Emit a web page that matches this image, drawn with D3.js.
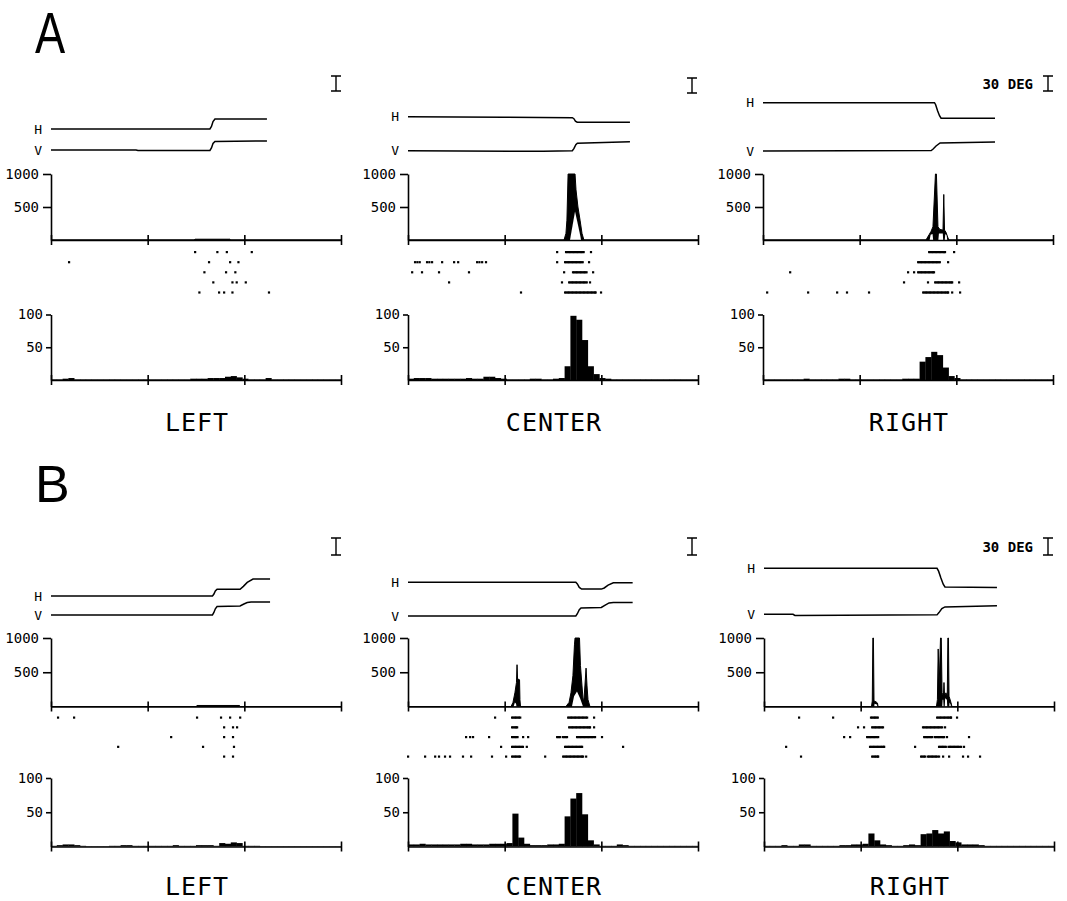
<!DOCTYPE html>
<html><head><meta charset="utf-8">
<script src="https://cdn.jsdelivr.net/npm/d3@7"></script>
<style>
html,body{margin:0;padding:0;background:#fff;}
svg{display:block;}
</style></head>
<body>
<script>
// ---------------- DATA ----------------
const panels = ["A", "B"];
const columns = ["LEFT", "CENTER", "RIGHT"];
const timeDomain = [0, 1500];           // ms
const timeTicks = [0, 500, 1000, 1500];
const densityTicks = [500, 1000];        // spikes/s
const densityMax = 1000;
const histTicks = [50, 100];
const histMax = 100;
const binWidth = 30;                     // ms
const scaleBarDeg = 30;
const scaleBarText = "30 DEG";

// eye position traces: [time ms, deg]
const eyeA_LEFT_H = [[0,0],[822,0],[830,5],[838,15],[848,20],[1117,20]];
const eyeA_LEFT_V = [[0,0],[440,0],[450,-1],[822,-1],[830,4],[838,13],[848,17],[1117,18]];
const eyeA_CENTER_H = [[0,0],[500,-1],[850,-2],[858,-4],[866,-9],[875,-11],[1148,-11]];
const eyeA_CENTER_V = [[0,0],[560,-1],[700,-1],[850,0],[858,4],[868,12],[876,15],[1148,18]];
const eyeA_RIGHT_H = [[0,0],[887,0],[893,-4],[903,-16],[913,-26],[921,-31],[1200,-31]];
const eyeA_RIGHT_V = [[0,0],[870,1],[880,4],[895,10],[916,16],[1200,18]];
const eyeB_LEFT_H = [[0,0],[835,0],[842,3],[850,9],[859,12],[978,12],[995,17],[1015,24],[1045,30],[1133,30]];
const eyeB_LEFT_V = [[0,0],[835,0],[842,4],[850,11],[859,15],[978,16],[995,19],[1015,22],[1035,23],[1133,23]];
const eyeB_CENTER_H = [[0,0],[868,0],[876,-3],[886,-9],[898,-12],[1000,-12],[1015,-10],[1035,-5],[1062,-1],[1162,-1]];
const eyeB_CENTER_V = [[0,0],[868,0],[876,4],[886,11],[895,14],[1000,15],[1020,19],[1040,23],[1062,24],[1162,24]];
const eyeB_RIGHT_H = [[0,0],[895,0],[903,-5],[915,-17],[927,-28],[936,-33],[1205,-34]];
const eyeB_RIGHT_V = [[0,0],[150,0],[160,-2],[895,-1],[905,3],[920,10],[936,13],[1205,15]];

// spike density: [time ms, spikes/s]; hole = unfilled interior under the envelope
const densA_LEFT = [[0,0],[740,0],[745,12],[925,12],[930,0],[1500,0]];
const holeA_LEFT = [];
const densA_CENTER = [[0,0],[807,0],[817,100],[822,300],[828,1000],[864,1000],[869,760],[879,500],[890,300],[900,100],[910,0],[1500,0]];
const holeA_CENTER = [[838,0],[853,250],[864,430],[874,300],[890,80],[895,0]];
const densA_RIGHT = [[0,0],[843,0],[859,80],[869,130],[879,200],[892,1000],[897,1000],[905,200],[915,160],[931,150],[935,690],[939,150],[946,120],[957,30],[962,0],[1500,0]];
const holeA_RIGHT = [[862,0],[867,80],[877,90],[880,0],[907,0],[910,100],[930,100],[932,0],[940,0],[943,90],[950,70],[953,0]];
const densB_LEFT = [[0,0],[750,0],[755,15],[975,15],[980,0],[1500,0]];
const holeB_LEFT = [];
const densB_CENTER = [[0,0],[533,0],[543,60],[553,200],[561,350],[564,610],[567,380],[570,400],[577,390],[579,100],[582,0],[817,0],[833,60],[843,200],[853,450],[861,900],[864,1000],[887,1000],[892,600],[900,300],[905,120],[910,100],[915,300],[921,560],[926,300],[931,100],[941,0],[1500,0]];
const holeB_CENTER = [[546,0],[553,60],[559,40],[561,0],[848,0],[859,150],[874,220],[890,120],[900,40],[905,0]];
const densB_RIGHT = [[0,0],[556,0],[560,80],[563,1000],[566,1000],[569,80],[579,70],[587,50],[590,0],[892,0],[897,100],[901,840],[906,300],[913,1000],[917,1000],[921,200],[928,150],[931,350],[934,150],[941,200],[948,150],[951,1000],[954,1000],[957,150],[967,60],[972,0],[1500,0]];
const holeB_RIGHT = [[570,0],[572,40],[584,30],[586,0],[922,0],[924,100],[927,100],[929,0],[935,0],[937,120],[946,100],[948,0],[958,0],[960,60],[965,30],[967,0]];

// rasters: 5 trials, spike times in ms
const rastA_LEFT = [
  [745,860,909,1038],
  [93,817,926,969],
  [793,905,953],
  [839,938,960,1007],
  [767,869,895,938,1127]
];
const rastA_CENTER = [
  [771,817,824,831,838,845,852,859,866,873,880,887,894,901,908,946],
  [36,48,60,98,110,124,176,238,259,357,369,383,403,771,812,819,826,833,840,847,854,861,868,875,882,889,896,903,936],
  [21,72,160,315,807,853,860,867,874,881,888,895,902,909,916,923,957],
  [212,796,833,840,847,854,861,868,875,882,889,896,903,910,917,924,941],
  [584,812,819,826,833,840,847,854,861,868,875,882,889,896,903,910,917,924,931,938,945,952,959,966,970,998]
];
const rastA_RIGHT = [
  [859,866,873,880,887,894,901,908,915,922,929,936,941,988],
  [802,809,816,823,830,837,844,851,858,865,872,879,886,893,900,907,914,957],
  [140,750,781,802,809,816,823,830,837,844,851,858,865,872,879,884],
  [729,853,890,897,904,911,918,925,932,939,946,953,960,967,974,978,1014],
  [21,233,383,434,548,828,835,842,849,856,863,870,877,884,891,898,905,912,919,926,933,940,947,954,957,978,1019]
];
const rastB_LEFT = [
  [36,119,755,879,926,978],
  [895,941,962],
  [621,895,941],
  [347,786,946],
  [895,941]
];
const rastB_CENTER = [
  [450,538,545,552,559,566,573,580,828,835,842,849,856,863,870,877,884,891,898,905,912,919,926,962],
  [538,545,552,559,564,833,840,847,854,861,868,875,882,889,896,903,910,917,924,931,938,941,962],
  [300,321,336,419,538,545,552,559,566,595,621,771,778,785,800,808,815,822,874,881,888,895,902,909,916,923,930,937,944,951,958,967,1003],
  [481,538,545,552,559,566,573,580,587,594,614,812,819,826,833,840,847,854,861,868,875,882,889,896,900,1112],
  [0,88,140,160,191,217,284,326,434,507,538,545,552,559,566,573,579,709,802,809,816,823,830,837,844,851,858,865,872,879,886,893,900,905,921]
];
const rastB_RIGHT = [
  [181,357,553,560,567,574,581,588,895,902,909,916,923,930,937,944,951,958,965,967,998],
  [486,517,559,566,573,580,587,594,601,608,615,822,829,836,843,850,857,864,871,878,885,892,899,906,913,921,936],
  [414,445,533,540,547,554,561,568,575,582,590,828,835,842,849,856,863,870,884,891,898,905,912,919,926,931,946,1060],
  [114,548,555,562,569,576,583,590,597,604,611,618,621,781,905,912,919,926,933,940,954,961,968,975,982,989,996,1003,1010,1019,1034],
  [191,559,566,573,580,587,590,812,819,826,833,847,854,861,868,875,882,889,896,905,926,957,1029,1055,1117]
];

// peri-saccadic histograms: 50 bins of 30 ms (spikes/s)
const histA_LEFT = [1,1,2,3,1,1,1,1,1,1, 1,1,1,1,1,1,1,1,1,1, 1,1,1,1,2,2,2,3,3,3, 5,6,4,2,1,1,1,3,1,1, 1,1,1,1,1,1,1,1,1,1];
const histA_CENTER = [2,3,3,3,2,2,2,2,2,2, 3,2,2,5,5,3,2,1,1,1, 1,2,2,1,1,2,3,21,98,92, 61,21,9,3,2,1,1,1,1,1, 1,1,1,1,1,1,1,1,1,1];
const histA_RIGHT = [1,1,1,1,1,1,1,2,1,1, 1,1,1,2,2,1,1,1,1,1, 1,1,1,1,2,2,2,28,35,43, 38,19,6,3,1,1,1,1,1,1, 1,1,1,1,1,1,1,1,1,1];
const histB_LEFT = [1,2,3,3,2,1,0.5,0.5,0.5,0.5, 1,1,2,2,1,1,1,1,1,1, 1,2,1,1,1,2,2,2,1,5, 4,6,5,1,1,1,0.5,0.5,0.5,0.5, 0.5,0.5,0.5,0.5,0.5,0.5,0.5,0.5,0.5,0.5];
const histB_CENTER = [3,3,4,3,3,3,3,3,3,4, 4,3,3,3,4,4,4,5,48,13, 4,2,2,2,3,3,4,44,70,78, 47,9,3,1,1,1,3,2,1,1, 1,1,1,1,1,1,1,1,1,1];
const histB_RIGHT = [1,1,1,2,1,1,3,3,1,1, 1,1,1,2,2,3,3,4,19,9, 3,2,1,1,2,3,2,18,19,24, 19,22,8,6,3,3,3,2,1,1, 1,1,1,1,1,1,1,1,1,1];

// ---------------- LAYOUT ----------------
const W = 1067, H = 901;
const layout = {
  A: { letter:{x:35, y:52.5, size:58, sx:0.78}, x0:[51,408,763], axisLen:290,
       barX:[336,692,1048], barTop:[76,78,76], degPx:0.5,
       eyeH:[129,116.7,102.7], eyeV:[150,150.7,151],
       dens:[174,240], rast:[252,10.1], hist:[314.5,380], labelY:430.5 },
  B: { letter:{x:35, y:502, size:52, sx:1.0}, x0:[51,408,764], axisLen:290,
       barX:[336,692,1048], barTop:[538,538,538], degPx:0.567,
       eyeH:[596,582.3,568.3], eyeV:[615,616,614.3],
       dens:[638,706.5], rast:[717.5,9.75], hist:[778,846.5], labelY:895 }
};

const eyeData = {A:[[eyeA_LEFT_H,eyeA_LEFT_V],[eyeA_CENTER_H,eyeA_CENTER_V],[eyeA_RIGHT_H,eyeA_RIGHT_V]],
                 B:[[eyeB_LEFT_H,eyeB_LEFT_V],[eyeB_CENTER_H,eyeB_CENTER_V],[eyeB_RIGHT_H,eyeB_RIGHT_V]]};
const densData = {A:[densA_LEFT,densA_CENTER,densA_RIGHT], B:[densB_LEFT,densB_CENTER,densB_RIGHT]};
const holeData = {A:[holeA_LEFT,holeA_CENTER,holeA_RIGHT], B:[holeB_LEFT,holeB_CENTER,holeB_RIGHT]};
const rastData = {A:[rastA_LEFT,rastA_CENTER,rastA_RIGHT], B:[rastB_LEFT,rastB_CENTER,rastB_RIGHT]};
const histData = {A:[histA_LEFT,histA_CENTER,histA_RIGHT], B:[histB_LEFT,histB_CENTER,histB_RIGHT]};

const monoFont = "'DejaVu Sans Mono', 'Liberation Mono', monospace";
const labelFont = "'Liberation Sans', Arial, sans-serif";

const svg = d3.select("body").append("svg").attr("width", W).attr("height", H)
  .attr("font-family", monoFont);
svg.append("rect").attr("width", W).attr("height", H).attr("fill", "#fff");

function styleAxis(g, sw) {
  g.select(".domain").attr("stroke", "#000").attr("stroke-width", sw);
  g.selectAll(".tick line").attr("stroke", "#000").attr("stroke-width", sw);
  g.selectAll(".tick text").attr("fill", "#000").attr("font-family", monoFont).attr("font-size", 14);
}

function timeAxis(g, tx, y) {
  const ax = g.append("g").attr("transform", `translate(0,${y})`)
    .call(d3.axisBottom(tx).tickValues(timeTicks).tickSize(5).tickSizeOuter(0).tickFormat(""));
  ax.selectAll(".tick line").attr("y1", -5).attr("y2", 5);
  styleAxis(ax, 1.6);
}

panels.forEach(p => {
  const L = layout[p];
  // panel letter
  svg.append("text").text(p)
    .attr("transform", `translate(${L.letter.x},${L.letter.y}) scale(${L.letter.sx},1)`)
    .attr("font-family", labelFont).attr("font-size", L.letter.size).attr("fill", "#000");

  columns.forEach((c, ci) => {
    const g = svg.append("g");
    const x0 = L.x0[ci];
    const tx = d3.scaleLinear().domain(timeDomain).range([x0, x0 + L.axisLen]);

    // scale bar (30 deg)
    const bx = L.barX[ci], bt = L.barTop[ci], bh = scaleBarDeg * L.degPx;
    g.append("path").attr("d", `M${bx-5},${bt}H${bx+5}M${bx},${bt}V${bt+bh}M${bx-5},${bt+bh}H${bx+5}`)
      .attr("stroke", "#000").attr("stroke-width", 1.4).attr("fill", "none");
    if (ci === 2) {
      g.append("text").text(scaleBarText).attr("x", bx - 15).attr("y", bt + bh/2)
        .attr("dy", "0.36em").attr("text-anchor", "end").attr("font-size", 14)
        .attr("font-weight", "bold").attr("fill", "#000");
    }

    // eye traces
    const bases = [L.eyeH[ci], L.eyeV[ci]];
    ["H", "V"].forEach((lab, k) => {
      const ey = d3.scaleLinear().domain([0, scaleBarDeg]).range([bases[k], bases[k] - scaleBarDeg * L.degPx]);
      const line = d3.line().x(d => tx(d[0])).y(d => ey(d[1]));
      g.append("path").datum(eyeData[p][ci][k]).attr("d", line)
        .attr("fill", "none").attr("stroke", "#000").attr("stroke-width", 1.5);
      g.append("text").text(lab).attr("x", x0 - 9).attr("y", bases[k]).attr("dy", "0.36em")
        .attr("text-anchor", "end").attr("font-size", 13).attr("fill", "#000");
    });

    // spike density
    const dy = d3.scaleLinear().domain([0, densityMax]).range([L.dens[1], L.dens[0]]);
    const area = d3.area().x(d => tx(d[0])).y0(dy(0)).y1(d => dy(d[1]));
    g.append("path").datum(densData[p][ci]).attr("d", area)
      .attr("fill", "#000").attr("stroke", "#000").attr("stroke-width", 1).attr("stroke-linejoin", "round");
    if (holeData[p][ci].length) {
      g.append("path").datum(holeData[p][ci]).attr("d", area).attr("fill", "#fff").attr("stroke", "none");
    }
    const yAx = g.append("g").attr("transform", `translate(${x0},0)`)
      .call(d3.axisLeft(dy).tickValues(densityTicks).tickFormat(d3.format("d"))
        .tickSize(8).tickSizeOuter(0).tickPadding(4));
    styleAxis(yAx, 1.6);
    timeAxis(g, tx, L.dens[1]);

    // raster
    rastData[p][ci].forEach((row, r) => {
      const ry = L.rast[0] + r * L.rast[1];
      g.selectAll(null).data(row).enter().append("rect")
        .attr("x", d => tx(d) - 1).attr("y", ry - 1).attr("width", 2.2).attr("height", 2.2).attr("fill", "#000");
    });

    // histogram
    const hy = d3.scaleLinear().domain([0, histMax]).range([L.hist[1], L.hist[0]]);
    g.selectAll(null).data(histData[p][ci]).enter().append("rect")
      .attr("x", (d, i) => tx(i * binWidth))
      .attr("width", tx(binWidth) - tx(0) + 0.3)
      .attr("y", d => hy(d))
      .attr("height", d => hy(0) - hy(d))
      .attr("fill", "#000");
    const hAx = g.append("g").attr("transform", `translate(${x0},0)`)
      .call(d3.axisLeft(hy).tickValues(histTicks).tickFormat(d3.format("d"))
        .tickSize(5).tickSizeOuter(0).tickPadding(3));
    styleAxis(hAx, 1.6);
    timeAxis(g, tx, L.hist[1]);

    // column label
    g.append("text").text(c).attr("x", x0 + 146).attr("y", L.labelY)
      .attr("text-anchor", "middle").attr("font-family", monoFont).attr("font-size", 25)
      .attr("letter-spacing", 1).attr("fill", "#000");
  });
});
</script>
</body></html>
